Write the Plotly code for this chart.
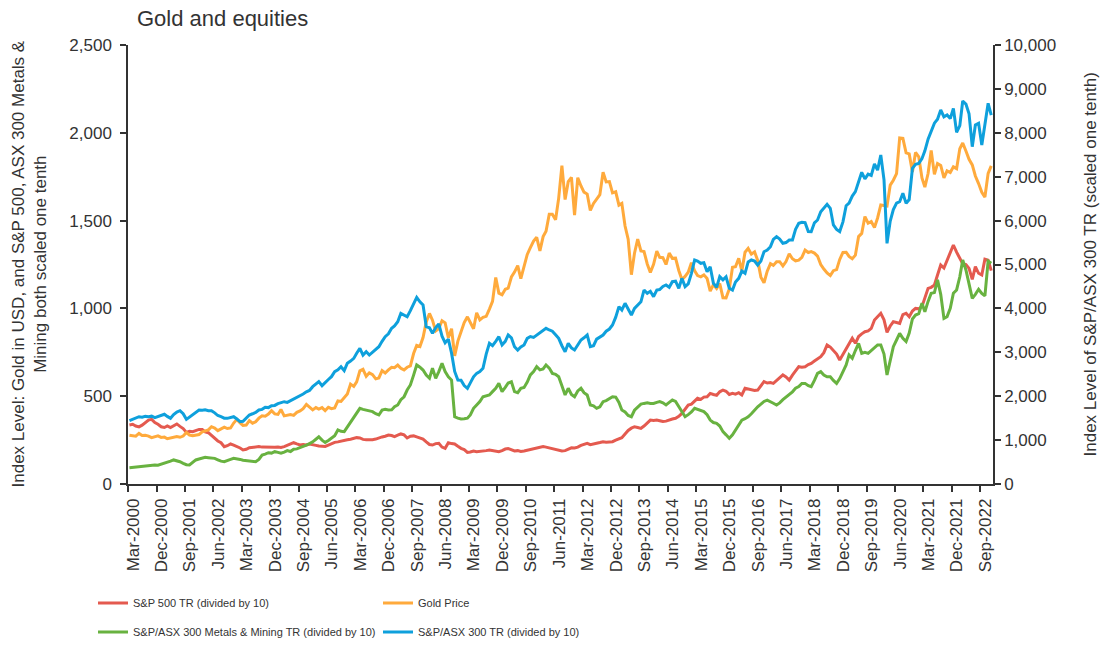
import pandas as pd
import plotly.graph_objects as go

# Monthly observations, Mar-2000 .. Dec-2022 (274 months)
months = pd.date_range("2000-03-01", periods=274, freq="MS")
x_mid = months + pd.Timedelta(days=14)

gold_price = [
    278, 276, 272, 288, 276, 277, 273, 264, 270, 274,
    265, 267, 258, 263, 267, 270, 266, 273, 293, 279, 275, 277,
    282, 297, 302, 308, 326, 318, 304, 312, 324, 316, 319, 347,
    368, 348, 334, 336, 361, 346, 354, 375, 388, 386, 398, 417,
    399, 396, 424, 388, 393, 395, 391, 408, 416, 429, 453, 435,
    422, 435, 427, 435, 418, 437, 429, 433, 473, 470, 495, 513,
    569, 556, 582, 644, 653, 613, 633, 623, 599, 604, 646, 632,
    650, 665, 662, 677, 659, 650, 665, 673, 743, 789, 783, 834,
    923, 971, 933, 871, 885, 930, 918, 833, 884, 730, 814, 870,
    919, 952, 916, 884, 975, 935, 949, 955, 996, 1040, 1176, 1087,
    1078, 1109, 1115, 1179, 1207, 1244, 1169, 1246, 1307, 1346, 1383, 1405,
    1328, 1409, 1439, 1536, 1536, 1505, 1628, 1813, 1620, 1722, 1746, 1531,
    1744, 1697, 1662, 1651, 1558, 1598, 1622, 1648, 1776, 1720, 1722, 1658,
    1664, 1588, 1598, 1469, 1394, 1192, 1314, 1394, 1327, 1324, 1253, 1204,
    1251, 1326, 1291, 1289, 1250, 1315, 1285, 1286, 1216, 1164, 1182, 1206,
    1260, 1214, 1187, 1180, 1191, 1171, 1098, 1135, 1114, 1142, 1061, 1060,
    1111, 1234, 1237, 1285, 1213, 1320, 1342, 1309, 1322, 1273, 1178, 1146,
    1212, 1255, 1245, 1266, 1266, 1242, 1267, 1311, 1283, 1271, 1275, 1291,
    1332, 1318, 1323, 1315, 1298, 1250, 1224, 1202, 1187, 1215, 1221, 1279,
    1319, 1320, 1296, 1283, 1303, 1409, 1427, 1523, 1485, 1495, 1461, 1515,
    1589, 1585, 1583, 1702, 1730, 1768, 1971, 1968, 1886, 1880, 1777, 1888,
    1863, 1743, 1691, 1768, 1900, 1763, 1825, 1814, 1743, 1783, 1774, 1806,
    1796, 1909, 1942, 1896, 1849, 1817, 1754, 1711, 1661, 1634, 1769, 1812,
]

sp500_tr = [
    336, 340, 330, 325, 335, 350, 364, 368, 350, 340,
    326, 322, 331, 321, 333, 342, 328, 316, 294, 300, 298, 305,
    311, 310, 297, 292, 275, 262, 245, 235, 212, 218, 228, 222,
    215, 205, 194, 198, 207, 209, 212, 213, 210, 209, 207, 210,
    209, 210, 208, 213, 220, 228, 235, 228, 222, 225, 222, 228,
    222, 220, 216, 213, 214, 222, 230, 237, 240, 245, 251, 252,
    255, 260, 264, 262, 254, 252, 251, 252, 256, 264, 268, 272,
    279, 276, 270, 278, 285, 280, 262, 272, 274, 268, 262, 256,
    240, 225, 222, 230, 232, 210, 203, 235, 230, 228, 215, 203,
    196, 180, 182, 188, 184, 186, 185, 190, 194, 190, 186, 184,
    190, 199, 202, 196, 188, 190, 185, 188, 192, 195, 198, 203,
    208, 213, 210, 205, 200, 198, 193, 188, 190, 200, 206, 205,
    210, 220, 228, 232, 224, 230, 232, 236, 241, 238, 240, 241,
    250, 258, 264, 285, 305, 318, 326, 322, 317, 330, 350, 364,
    362, 364, 360, 356, 358, 366, 370, 374, 385, 402, 425, 450,
    455, 475, 488, 482, 495, 497, 516, 510, 505, 525, 535, 528,
    510, 516, 512, 520, 507, 545, 540, 538, 533, 535, 560, 583,
    575, 578, 573, 590, 605, 621, 610, 592, 620, 645, 668, 665,
    668, 680, 687, 700, 712, 725, 748, 792, 780, 763, 740, 706,
    740, 773, 800, 830, 801, 840, 855, 867, 872, 886, 934, 955,
    972, 935, 864, 900, 924, 920, 915, 965, 972, 953, 985, 1000,
    998, 1010, 1057, 1114, 1120, 1133, 1190, 1247, 1230, 1276, 1320, 1361,
    1320, 1290, 1255, 1250, 1228, 1165, 1238, 1200, 1190, 1280, 1275, 1215,
]

metals_mining_tr = [
    93, 95, 98, 100, 104, 103, 105, 106, 108, 107,
    112, 118, 122, 130, 137, 133, 127, 118, 110, 108, 125, 137,
    142, 148, 152, 150, 147, 146, 138, 130, 127, 135, 140, 146,
    144, 140, 135, 133, 130, 128, 127, 140, 165, 170, 178, 176,
    184, 180, 175, 182, 190, 185, 198, 200, 209, 215, 222, 230,
    240, 255, 269, 250, 237, 248, 262, 275, 308, 300, 298, 325,
    355, 383, 410, 431, 425, 421, 415, 412, 400, 393, 421, 425,
    421, 422, 440, 450, 480, 497, 535, 564, 620, 678, 665, 649,
    620, 602, 659, 602, 640, 687, 640, 611, 592, 383, 375, 370,
    372, 375, 393, 431, 450, 470, 497, 500, 507, 526, 545, 573,
    526, 550, 575, 582, 526, 520, 545, 550, 580, 621, 640, 668,
    650, 655, 678, 660, 630, 625, 611, 560, 507, 545, 510, 497,
    530, 545, 520, 507, 450, 445, 431, 440, 469, 475, 485, 497,
    495, 465, 421, 410, 390, 383, 420, 440, 455, 459, 462, 459,
    459, 465, 469, 462, 450, 465, 478, 470, 440, 412, 383, 395,
    410, 431, 425, 415, 412, 395, 364, 350, 345, 330, 298, 280,
    260, 280, 308, 335, 364, 372, 383, 400, 421, 440, 455, 470,
    478, 470, 460, 450, 462, 480, 495, 507, 525, 545, 555, 573,
    573, 560, 554, 590, 630, 640, 621, 611, 611, 590, 573, 600,
    640, 678, 735, 716, 760, 801, 744, 750, 744, 760, 775, 792,
    792, 740, 621, 700, 782, 820, 858, 830, 811, 860, 940, 962,
    970, 1029, 981, 1040, 1086, 1090, 1162, 1080, 943, 953, 1000, 1086,
    1105, 1180, 1276, 1219, 1140, 1057, 1080, 1109, 1085, 1071, 1269, 1257,
]

asx300_tr = [
    1442, 1470, 1500, 1533, 1520, 1540, 1530, 1545, 1510, 1533,
    1550, 1588, 1540, 1496, 1580, 1640, 1670, 1600, 1473, 1530, 1590, 1640,
    1686, 1680, 1690, 1670, 1670, 1620, 1560, 1533, 1500, 1496, 1520, 1533,
    1480, 1420, 1430, 1500, 1572, 1600, 1630, 1686, 1700, 1747, 1740, 1784,
    1790, 1830, 1850, 1875, 1860, 1900, 1929, 1960, 2005, 2050, 2100, 2130,
    2217, 2280, 2331, 2240, 2300, 2380, 2445, 2558, 2600, 2672, 2581, 2750,
    2800, 2862, 2980, 3090, 2938, 3014, 2938, 3000, 3060, 3128, 3250, 3356,
    3420, 3546, 3600, 3697, 3888, 3850, 3811, 3948, 4100, 4252, 4150, 4077,
    3583, 3560, 3431, 3560, 3645, 3368, 3216, 3300, 2981, 2563, 2369, 2364,
    2241, 2180, 2303, 2441, 2521, 2560, 2634, 2960, 3204, 3150, 3250, 3356,
    3166, 3250, 3394, 3330, 3128, 3052, 3120, 3166, 3318, 3360, 3340, 3394,
    3430, 3500, 3546, 3508, 3480, 3400, 3318, 3150, 3014, 3204, 3100, 3052,
    3180, 3280, 3330, 3394, 3128, 3150, 3300, 3340, 3394, 3480, 3530, 3622,
    3800, 4040, 3964, 4116, 3980, 3850, 4000, 4078, 4150, 4419, 4343, 4390,
    4267, 4419, 4430, 4500, 4533, 4480, 4608, 4620, 4458, 4685, 4496, 4560,
    4799, 5103, 5080, 5027, 5040, 4837, 4950, 4572, 4480, 4723, 4650, 4720,
    4460, 4419, 4600, 4685, 4850, 4800, 5060, 5103, 5080, 4988, 5080, 5292,
    5330, 5406, 5570, 5634, 5580, 5483, 5500, 5558, 5560, 5800, 5938, 5960,
    5953, 5750, 5747, 5950, 6014, 6200, 6280, 6371, 6280, 5900, 5800, 5750,
    5971, 6340, 6400, 6560, 6660, 6900, 7100, 6950, 7060, 7030, 7290, 7150,
    7494, 6930, 5482, 5990, 6250, 6400, 6430, 6622, 6393, 6480, 7190, 7280,
    7302, 7411, 7589, 7855, 8035, 8220, 8311, 8519, 8365, 8405, 8324, 8557,
    8011, 8162, 8724, 8655, 8430, 7684, 8178, 8215, 7722, 8168, 8671, 8405,
]

series_names = [
    "S&P 500 TR (divided by 10)",
    "Gold Price",
    "S&P/ASX 300 Metals & Mining TR (divided by 10)",
    "S&P/ASX 300 TR (divided by 10)",
]

RED, ORANGE, GREEN, BLUE = "#E45A4F", "#FFAA3C", "#68B240", "#0EA0DC"
TXT = "#333333"
AXC = "#333333"
FONT = "Liberation Sans, Arial, sans-serif"

fig = go.Figure()
fig.add_trace(go.Scatter(x=x_mid, y=sp500_tr, name=series_names[0], mode="lines",
                         line=dict(color=RED, width=3), legend="legend"))
fig.add_trace(go.Scatter(x=x_mid, y=gold_price, name=series_names[1], mode="lines",
                         line=dict(color=ORANGE, width=3), legend="legend2"))
fig.add_trace(go.Scatter(x=x_mid, y=metals_mining_tr, name=series_names[2], mode="lines",
                         line=dict(color=GREEN, width=3), legend="legend3"))
fig.add_trace(go.Scatter(x=x_mid, y=asx300_tr, name=series_names[3], mode="lines",
                         line=dict(color=BLUE, width=3), yaxis="y2", legend="legend4"))

L, R, T, B = 128, 107, 45, 162
W, H = 1100, 646
pw, ph = W - L - R, H - T - B

def px_x(px):
    return (px - L) / pw

def px_y(py):
    return (H - B - py) / ph

leg_common = dict(orientation="v", bgcolor="rgba(0,0,0,0)", borderwidth=0,
                  font=dict(family=FONT, size=11, color=TXT),
                  xanchor="left", yanchor="middle", itemwidth=30)

fig.update_layout(
    width=W, height=H,
    margin=dict(l=L, r=R, t=T, b=B, autoexpand=False),
    paper_bgcolor="white", plot_bgcolor="white",
    showlegend=True,
    font=dict(family=FONT, size=17, color=TXT),
    title=dict(text="Gold and equities", x=137 / W, xref="container", xanchor="left",
               y=1 - 18 / H, yref="container", yanchor="middle",
               font=dict(family=FONT, size=22, color=TXT)),
    xaxis=dict(type="date", range=["2000-03-01", "2023-01-01"],
               tick0="2000-03-01", dtick="M9", tickformat="%b-%Y", tickangle=-90,
               ticks="outside", ticklen=6, tickwidth=1.5, tickcolor=AXC,
               ticklabelshift=5,
               showline=True, linecolor=AXC, linewidth=1.5, showgrid=False, zeroline=False,
               tickfont=dict(family=FONT, size=17, color=TXT)),
    yaxis=dict(range=[0, 2500], dtick=500, tickformat=",d",
               ticks="outside", ticklen=6, tickwidth=1.5, tickcolor=AXC,
               ticklabelstandoff=5,
               showline=True, linecolor=AXC, linewidth=1.5, showgrid=False, zeroline=False,
               tickfont=dict(family=FONT, size=17, color=TXT)),
    yaxis2=dict(range=[0, 10000], dtick=1000, tickformat=",d", overlaying="y", side="right",
                ticks="outside", ticklen=6, tickwidth=1.5, tickcolor=AXC,
                showline=True, linecolor=AXC, linewidth=1.5, showgrid=False, zeroline=False,
                tickfont=dict(family=FONT, size=17, color=TXT)),
    legend=dict(x=px_x(93), y=px_y(603), **leg_common),
    legend2=dict(x=px_x(378), y=px_y(603), **leg_common),
    legend3=dict(x=px_x(93), y=px_y(632), **leg_common),
    legend4=dict(x=px_x(378), y=px_y(632), **leg_common),
    annotations=[
        dict(text="Index Level: Gold in USD, and S&P 500, ASX 300 Metals &<br>Mining both scaled one tenth",
             xref="paper", yref="paper", x=px_x(29), y=0.5, xanchor="center", yanchor="middle",
             textangle=-90, showarrow=False, font=dict(family=FONT, size=17, color=TXT)),
        dict(text="Index Level of S&P/ASX 300 TR (scaled one tenth)",
             xref="paper", yref="paper", x=px_x(1090), y=0.5, xanchor="center", yanchor="middle",
             textangle=-90, showarrow=False, font=dict(family=FONT, size=17, color=TXT)),
    ],
)

fig.write_html("out.html", config={"displayModeBar": False},
               post_script="document.body.style.margin='0';document.body.style.padding='0';")
